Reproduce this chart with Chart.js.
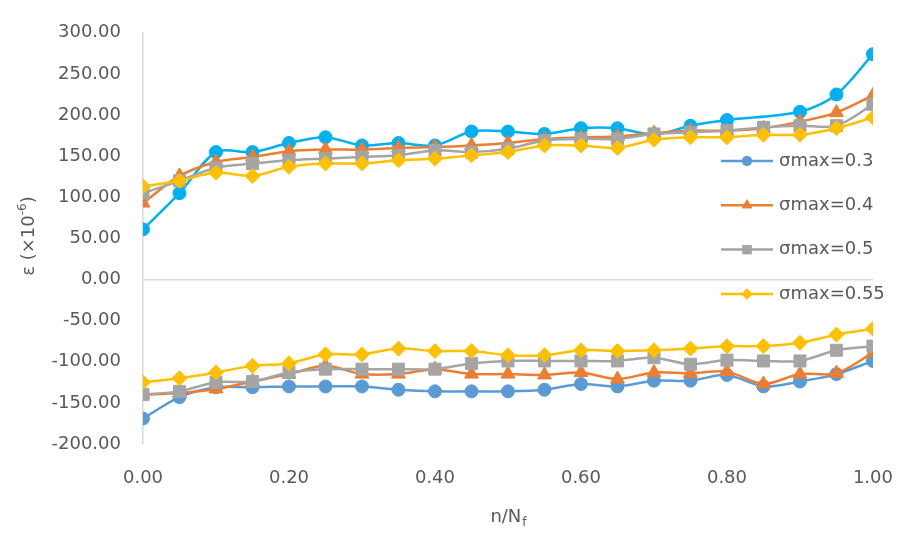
<!DOCTYPE html>
<html>
<head>
<meta charset="utf-8">
<script src="https://cdn.jsdelivr.net/npm/chart.js"></script>
<style>
  body { margin: 0; background: #fff; }
  #wrap { width: 909px; height: 533px; position: relative; }
</style>
</head>
<body>
<div id="wrap"><canvas id="myChart"></canvas></div>
<script>
var xs = [0,0.05,0.1,0.15,0.2,0.25,0.3,0.35,0.4,0.45,0.5,0.55,0.6,0.65,0.7,0.75,0.8,0.85,0.9,0.95,1.0];
var labels = ["σmax=0.3","σmax=0.4","σmax=0.5","σmax=0.55"];

var s03Up  = [61,105,155,155,166,173,163,166,163,180,180,177,184,184,176,187,194,null,204,225,274];
var s04Up  = [93,126,143,149,156,158,158,160,161,163,166,171,173,174,178,181,181,184,192,203,224];
var s05Up  = [105,120,136,141,145,147,149,151,157,155,159,169,171,171,177,179,181,185,187,187,213];
var s055Up = [113,120,130,126,137,141,141,145,147,151,155,163,163,160,170,173,173,176,176,184,197];

var s03Low  = [-169,-143,-131,-131,-130,-130,-130,-134,-136,-136,-136,-134,-127,-130,-123,-123,-116,-130,-124,-115,-99];
var s04Low  = [-140,-138,-133,-124,-115,-105,-115,-115,-109,-115,-115,-116,-113,-121,-113,-114,-112,-127,-115,-114,-89];
var s05Low  = [-140,-136,-125,-124,-113,-109,-109,-109,-109,-102,-99,-99,-99,-99,-95,-103,-98,-99,-99,-86,-81];
var s055Low = [-125,-120,-113,-105,-102,-91,-91,-84,-87,-87,-92,-92,-86,-87,-86,-84,-81,-81,-77,-67,-60];

var textColor = "#595959";
var font = "DejaVu Sans";

function pts(arr) {
  var out = [];
  for (var i = 0; i < xs.length; i++) {
    if (arr[i] !== null) out.push({x: xs[i], y: arr[i]});
  }
  return out;
}

function series(arr, color, style, radius, order, label) {
  return {
    data: pts(arr),
    label: label,
    borderColor: color,
    backgroundColor: color,
    pointBackgroundColor: color,
    pointBorderColor: color,
    pointBorderWidth: 1,
    pointStyle: style,
    pointRadius: radius,
    borderWidth: 2.5,
    tension: 0.3,
    fill: false,
    order: order
  };
}

var legendItems = [
  {label: labels[0], color: "#5B9BD5", style: "circle", radius: 5},
  {label: labels[1], color: "#ED7D31", style: "triangle", radius: 6},
  {label: labels[2], color: "#A5A5A5", style: "rect", radius: 6.5},
  {label: labels[3], color: "#FFC000", style: "rectRot", radius: 5.5}
];

var sideLegend = {
  id: "sideLegend",
  afterDraw: function(chart) {
    var ctx = chart.ctx;
    ctx.save();
    legendItems.forEach(function(it, i) {
      var y = 161 + i * 44.3;
      ctx.strokeStyle = it.color;
      ctx.lineWidth = 2.5;
      ctx.beginPath();
      ctx.moveTo(721, y);
      ctx.lineTo(773, y);
      ctx.stroke();
      ctx.fillStyle = it.color;
      Chart.helpers.drawPoint(ctx, {pointStyle: it.style, radius: it.radius, rotation: 0, borderWidth: 0}, 747, y);
      ctx.fill();
      ctx.fillStyle = textColor;
      ctx.font = "18px '" + font + "'";
      ctx.textBaseline = "middle";
      ctx.textAlign = "left";
      ctx.fillText(it.label, 779, y);
    });
    ctx.restore();
  }
};

var axisTitles = {
  id: "axisTitles",
  afterDraw: function(chart) {
    var ctx = chart.ctx;
    var a = chart.chartArea;
    ctx.save();
    ctx.fillStyle = textColor;
    ctx.textBaseline = "middle";
    ctx.textAlign = "left";
    // x title: n/N with subscript f
    var big = "18px '" + font + "'";
    var small = "12px '" + font + "'";
    ctx.font = big;
    var w1 = ctx.measureText("n/N").width;
    ctx.font = small;
    var w2 = ctx.measureText("f").width;
    var cx = (a.left + a.right) / 2;
    var x0 = cx - (w1 + w2) / 2;
    ctx.font = big;
    ctx.fillText("n/N", x0, 517);
    ctx.font = small;
    ctx.fillText("f", x0 + w1 + 1, 523);
    // y title: ε (×10^-6)
    ctx.translate(29, 236);
    ctx.rotate(-Math.PI / 2);
    ctx.font = big;
    var p1 = "ε (×10", p3 = ")";
    var m1 = ctx.measureText(p1).width, m3 = ctx.measureText(p3).width;
    ctx.font = small;
    var m2 = ctx.measureText("-6").width;
    var sx = -(m1 + m2 + m3) / 2;
    ctx.font = big;
    ctx.fillText(p1, sx, 0);
    ctx.font = small;
    ctx.fillText("-6", sx + m1, -6);
    ctx.font = big;
    ctx.fillText(p3, sx + m1 + m2, 0);
    ctx.restore();
  }
};

var ctx = document.getElementById("myChart");
var myChart = new Chart(ctx, {
  type: "line",
  data: {
    datasets: [
      series(s03Up, "#00B0F0", "circle", 6.5, 3, labels[0]),
      series(s03Low, "#5B9BD5", "circle", 6.5, 3, labels[0]),
      series(s04Up, "#ED7D31", "triangle", 8, 2, labels[1]),
      series(s04Low, "#ED7D31", "triangle", 8, 2, labels[1]),
      series(s05Up, "#A5A5A5", "rect", 8.5, 1, labels[2]),
      series(s05Low, "#A5A5A5", "rect", 8.5, 1, labels[2]),
      series(s055Up, "#FFC000", "rectRot", 7.5, 0, labels[3]),
      series(s055Low, "#FFC000", "rectRot", 7.5, 0, labels[3])
    ]
  },
  options: {
    responsive: true,
    maintainAspectRatio: false,
    animation: false,
    layout: { padding: { left: 0, right: 32, top: 15, bottom: 0 } },
    plugins: {
      legend: { display: false },
      tooltip: { enabled: false }
    },
    scales: {
      x: {
        type: "linear",
        min: 0,
        max: 1,
        afterFit: function(s) { s.height = 89; },
        ticks: {
          stepSize: 0.2,
          padding: 16,
          color: textColor,
          font: { family: font, size: 18 },
          callback: function(v) { return v.toFixed(2); }
        },
        grid: { display: false },
        border: { display: false }
      },
      y: {
        min: -200,
        max: 300,
        afterFit: function(s) { s.width = 143; },
        ticks: {
          stepSize: 50,
          padding: 22,
          color: textColor,
          font: { family: font, size: 18 },
          callback: function(v) { return v.toFixed(2); }
        },
        grid: {
          drawTicks: false,
          lineWidth: 1.5,
          color: function(c) { return c.tick && c.tick.value === 0 ? "#d9d9d9" : "rgba(0,0,0,0)"; }
        },
        border: { display: true, color: "#d9d9d9", width: 1.5 }
      }
    }
  },
  plugins: [sideLegend, axisTitles]
});
</script>
</body>
</html>
